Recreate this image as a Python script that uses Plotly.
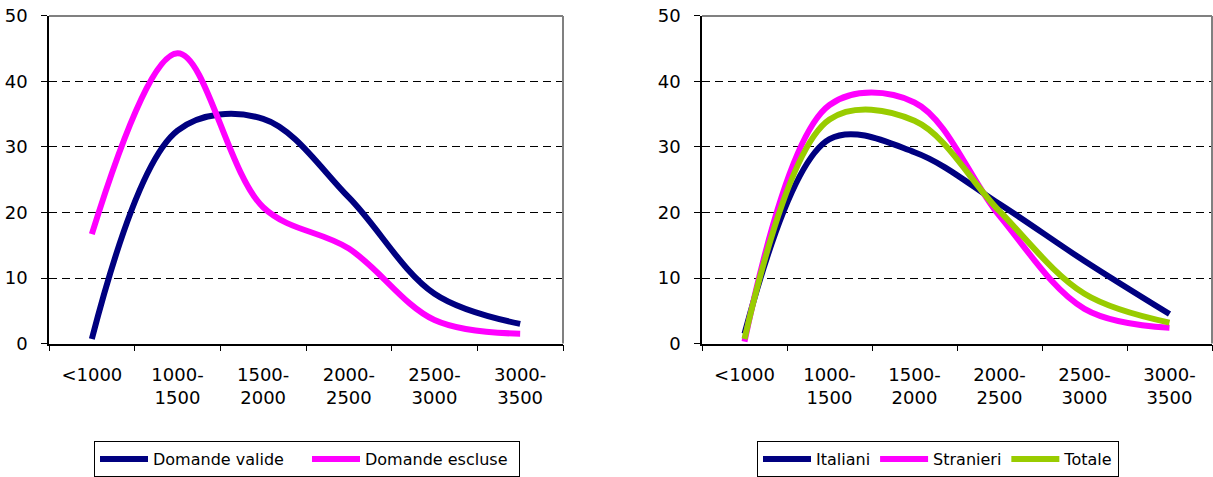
import plotly.graph_objects as go

# ---- data ----
categories = ["<1000", "1000-1500", "1500-2000", "2000-2500", "2500-3000", "3000-3500"]
tick_labels = ["&lt;1000", "1000-<br>1500", "1500-<br>2000", "2000-<br>2500", "2500-<br>3000", "3000-<br>3500"]

domande_valide = [0.7, 32.5, 34.3, 22.3, 7.6, 3.0]
domande_escluse = [16.7, 44.3, 20.8, 14.5, 3.6, 1.5]

italiani = [1.5, 31.2, 29.2, 21.3, 12.6, 4.5]
stranieri = [0.3, 36.4, 36.8, 19.5, 5.3, 2.4]
totale = [0.7, 34.2, 34.0, 20.2, 7.6, 3.2]

y_ticks = [0, 10, 20, 30, 40, 50]

W, H = 1213, 477
NAVY = "#000080"
MAGENTA = "#FF00FF"
GREEN = "#99CC00"
FONT = "DejaVu Sans"

fig = go.Figure()

def add_line(x, y, name, color, xa, ya, legend):
    fig.add_trace(go.Scatter(
        x=x, y=y, name=name, mode="lines",
        line=dict(color=color, width=6, shape="spline", smoothing=1.0),
        xaxis=xa, yaxis=ya, legend=legend, hoverinfo="skip"))

add_line(categories, domande_valide, "Domande valide", NAVY, "x", "y", "legend")
add_line(categories, domande_escluse, "Domande escluse", MAGENTA, "x", "y", "legend")
add_line(categories, italiani, "Italiani", NAVY, "x2", "y2", "legend2")
add_line(categories, stranieri, "Stranieri", MAGENTA, "x2", "y2", "legend2")
add_line(categories, totale, "Totale", GREEN, "x2", "y2", "legend2")

y_dom = [1 - 345 / H, 1 - 16 / H]
x1_dom = [49 / W, 563 / W]
x2_dom = [702 / W, 1212 / W]

def xaxis_cfg(dom, anchor):
    return dict(
        domain=dom, anchor=anchor, type="category",
        categoryorder="array", categoryarray=categories,
        tickmode="array", tickvals=categories, ticktext=tick_labels,
        range=[-0.5, len(categories) - 0.5],
        tickson="boundaries", ticks="outside", ticklen=6, tickcolor="black",
        showline=True, linecolor="black", linewidth=1.5,
        showgrid=False, zeroline=False,
        tickfont=dict(family=FONT, size=18, color="black"),
        ticklabelstandoff=14, automargin=False, fixedrange=True)

def yaxis_cfg(anchor):
    return dict(
        domain=y_dom, anchor=anchor, range=[0, 50],
        tickmode="array", tickvals=y_ticks,
        ticks="outside", ticklen=6, tickcolor="black",
        showline=True, linecolor="black", linewidth=1.5,
        showgrid=True, gridcolor="black", gridwidth=1, griddash="8px,5px",
        zeroline=False,
        tickfont=dict(family=FONT, size=18, color="black"),
        ticklabelstandoff=10,
        automargin=False, fixedrange=True)

legend_common = dict(orientation="h", xanchor="left", yanchor="top",
                     bordercolor="black", borderwidth=1, bgcolor="white",
                     font=dict(family=FONT, size=16, color="black"),
                     itemwidth=48, tracegroupgap=0)

fig.update_layout(
    width=W, height=H,
    margin=dict(l=0, r=0, t=0, b=0),
    paper_bgcolor="white", plot_bgcolor="white",
    showlegend=True,
    xaxis=xaxis_cfg(x1_dom, "y"),
    yaxis=yaxis_cfg("x"),
    xaxis2=xaxis_cfg(x2_dom, "y2"),
    yaxis2=yaxis_cfg("x2"),
    legend=dict(x=94 / W, y=1 - 443 / H, entrywidth=149, **legend_common),
    legend2=dict(x=757 / W, y=1 - 443 / H, **legend_common),
)

# grey top / right borders of plot areas
for xr, yr in (("x domain", "y domain"), ("x2 domain", "y2 domain")):
    fig.add_shape(type="line", xref=xr, yref=yr, x0=0, x1=1, y0=1, y1=1,
                  line=dict(color="#808080", width=2))
    fig.add_shape(type="line", xref=xr, yref=yr, x0=1, x1=1, y0=0, y1=1,
                  line=dict(color="#808080", width=2))

fig.write_html("out.html")
